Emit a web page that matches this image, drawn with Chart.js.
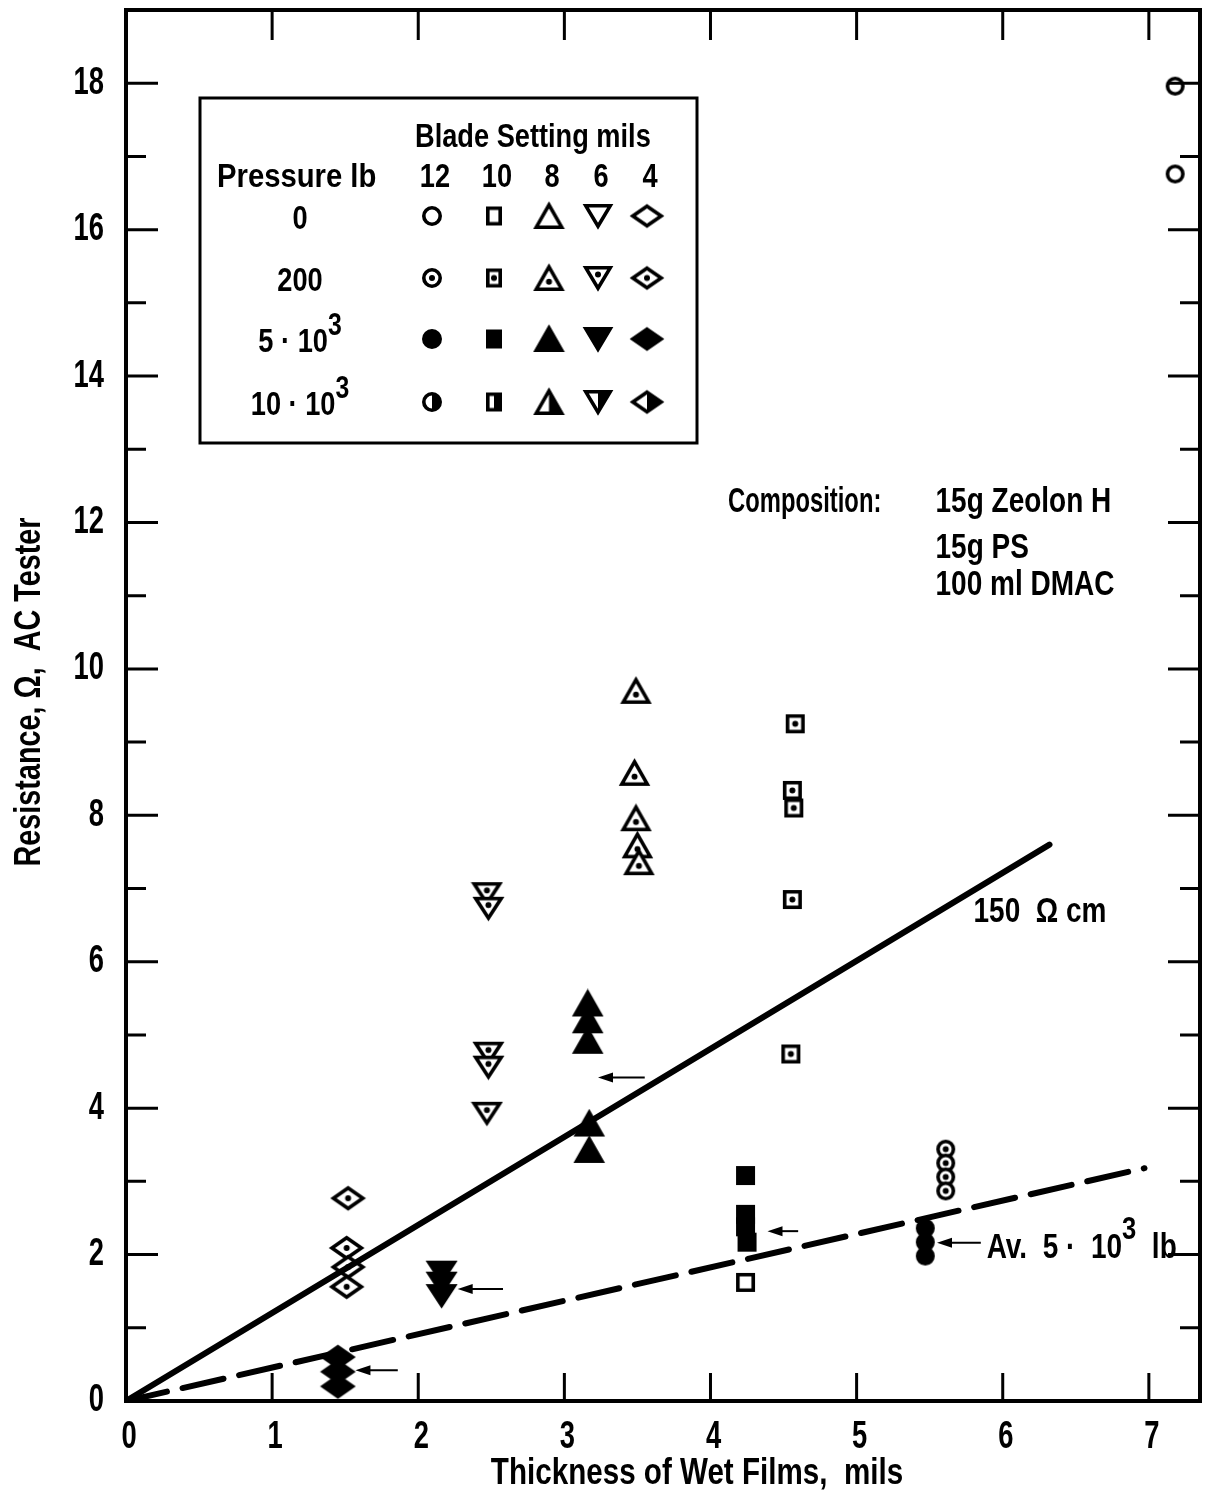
<!DOCTYPE html>
<html>
<head>
<meta charset="utf-8">
<script src="https://cdn.jsdelivr.net/npm/chart.js@4.4.1/dist/chart.umd.min.js"></script>
<style>
  html, body { margin: 0; padding: 0; background: #fff; }
  #wrap { width: 1210px; height: 1494px; }
</style>
</head>
<body>
<div id="wrap"><canvas id="chart" width="1210" height="1494"></canvas></div>
<script>
const FONT = '"Liberation Sans", "DejaVu Sans", sans-serif';
const SQUEEZE = 0.8;      // the original lettering is a condensed face

// axis ranges
const xMin = 0, xMax = 7.35;
const yMin = 0, yMax = 19;

// Pressure 0 lb (open symbols)
const open12 = [[7.18, 17.96], [7.18, 16.76]];
const open10 = [[4.24, 1.62]];
// Pressure 200 lb (dotted symbols)
const dot12 = [[5.61, 3.44], [5.61, 3.25], [5.61, 3.06], [5.61, 2.87]];
const dot10 = [[4.58, 9.25], [4.56, 8.34], [4.57, 8.10], [4.56, 6.85], [4.55, 4.74]];
const dot8 = [[3.49, 9.70], [3.48, 8.58], [3.49, 7.96], [3.50, 7.59], [3.51, 7.36]];
const dot6 = [[2.47, 6.93], [2.48, 6.73], [2.48, 4.75], [2.48, 4.56], [2.47, 3.93]];
const dot4 = [[1.52, 2.77], [1.51, 2.09], [1.52, 1.83], [1.51, 1.56]];
// Pressure 5*10^3 lb (solid symbols)
const solid12 = [[5.47, 2.36], [5.47, 2.17], [5.47, 1.98]];
const solid10 = [[4.24, 3.08], [4.24, 2.55], [4.24, 2.38], [4.25, 2.17]];
const solid8 = [[3.16, 5.43], [3.16, 5.20], [3.16, 4.92], [3.17, 3.79], [3.17, 3.43]];
const solid6 = [[2.16, 1.76], [2.16, 1.61], [2.16, 1.44]];
const solid4 = [[1.45, 0.60], [1.45, 0.40], [1.45, 0.20]];

// fitted lines
const line150 = [[0, 0], [6.32, 7.60]];
const lineAvg = [[0, 0], [6.97, 3.18]];

// arrows: from x, from y, to x, to y
const arrows = [
    [3.55, 4.42, 3.23, 4.42],
    [2.58, 1.53, 2.27, 1.53],
    [1.86, 0.42, 1.57, 0.42],
    [4.60, 2.32, 4.39, 2.32],
    [5.85, 2.16, 5.55, 2.16]
];

// text notes placed in data units: text, x, y, squeeze
const notes = [
    ['Composition:', 4.12, 12.27, 0.68],
    ['15g Zeolon H', 5.54, 12.27, SQUEEZE],
    ['15g PS', 5.54, 11.65, SQUEEZE],
    ['100 ml DMAC', 5.54, 11.14, SQUEEZE],
    ['150  \u03A9 cm', 5.80, 6.67, SQUEEZE]
];

// legend table
const bladeSettings = ['12', '10', '8', '6', '4'];
const pressures = ['0', '200', '5 \u00B7 10|3', '10 \u00B7 10|3'];
const shapes = ['circle', 'square', 'triangle', 'down', 'diamond'];
const fills = ['open', 'dot', 'solid', 'half'];

const sizes = {
    circle: [19, 19],
    square: [19, 19],
    triangle: [29, 26],
    down: [29, 23],
    diamond: [33, 24]
};
const legendSizes = {
    circle: [20, 20],
    square: [16, 19],
    triangle: [29, 26],
    down: [28, 24],
    diamond: [32, 23]
};

function tracePath(g, shape, w, h) {
    const hw = w / 2, hh = h / 2;
    g.beginPath();
    if (shape === 'circle') {
        g.ellipse(0, 0, hw, hh, 0, 0, Math.PI * 2);
    } else if (shape === 'square') {
        g.rect(-hw, -hh, w, h);
    } else if (shape === 'triangle') {
        g.moveTo(0, -hh); g.lineTo(hw, hh); g.lineTo(-hw, hh); g.closePath();
    } else if (shape === 'down') {
        g.moveTo(-hw, -hh); g.lineTo(hw, -hh); g.lineTo(0, hh); g.closePath();
    } else {
        g.moveTo(0, -hh); g.lineTo(hw, 0); g.lineTo(0, hh); g.lineTo(-hw, 0); g.closePath();
    }
}

// build a marker image (canvas) used as pointStyle
function makeMarker(shape, fill, size) {
    const lw = 3.6, pad = 2;
    const w = size[0] - lw, h = size[1] - lw;
    const c = document.createElement('canvas');
    c.width = size[0] + pad * 2;
    c.height = size[1] + pad * 2;
    const g = c.getContext('2d');
    g.translate(c.width / 2, c.height / 2);
    g.lineWidth = lw;
    g.lineJoin = 'miter';
    g.strokeStyle = '#000';
    tracePath(g, shape, w, h);
    if (fill === 'solid') {
        g.fillStyle = '#000';
        g.fill();
        g.stroke();
        return c;
    }
    g.fillStyle = '#fff';
    g.fill();
    if (fill === 'half') {
        g.save();
        g.clip();
        g.fillStyle = '#000';
        g.fillRect(0, -h, w, h * 2);
        g.restore();
    }
    tracePath(g, shape, w, h);
    g.stroke();
    if (fill === 'dot') {
        let dy = 0;
        if (shape === 'triangle') dy = h * 0.17;
        if (shape === 'down') dy = -h * 0.17;
        g.fillStyle = '#000';
        g.beginPath();
        g.arc(0, dy, 3, 0, Math.PI * 2);
        g.fill();
    }
    return c;
}

function pts(arr) {
    return arr.map(p => ({ x: p[0], y: p[1] }));
}

function markerSet(arr, shape, fill) {
    return {
        data: pts(arr),
        pointStyle: makeMarker(shape, fill, sizes[shape]),
        pointRadius: 9,
        showLine: false
    };
}

function lineSet(arr, width, dash) {
    return {
        data: pts(arr),
        showLine: true,
        borderColor: '#000',
        borderWidth: width,
        borderDash: dash,
        borderCapStyle: 'round',
        pointRadius: 0
    };
}

function drawArrow(ctx, x1, y1, x2, y2) {
    ctx.beginPath();
    ctx.moveTo(x1, y1);
    ctx.lineTo(x2 + 10, y2);
    ctx.stroke();
    ctx.beginPath();
    ctx.moveTo(x2, y2);
    ctx.lineTo(x2 + 15, y2 - 5);
    ctx.lineTo(x2 + 15, y2 + 5);
    ctx.closePath();
    ctx.fill();
}

// horizontally squeezed text
function sText(ctx, str, x, y, align, sx, rot) {
    ctx.save();
    ctx.translate(x, y);
    if (rot) ctx.rotate(rot);
    ctx.scale(sx, 1);
    ctx.textAlign = align;
    ctx.fillText(str, 0, 0);
    ctx.restore();
}

// text with "|" marking a superscript part
function drawSup(ctx, text, x, y, align, size, sx) {
    const parts = text.split('|');
    const base = parts[0], sup = parts[1] || '', rest = parts[2] || '';
    const f = 'bold ' + size + 'px ' + FONT;
    const fs = 'bold ' + Math.round(size * 0.9) + 'px ' + FONT;
    ctx.font = f;
    const wBase = ctx.measureText(base).width * sx;
    const wRest = ctx.measureText(rest).width * sx;
    ctx.font = fs;
    const wSup = ctx.measureText(sup).width * sx;
    let sx0 = x;
    if (align === 'center') sx0 = x - (wBase + wSup + wRest) / 2;
    ctx.font = f;
    sText(ctx, base, sx0, y, 'left', sx);
    ctx.font = fs;
    sText(ctx, sup, sx0 + wBase, y - size * 0.5, 'left', sx);
    ctx.font = f;
    sText(ctx, rest, sx0 + wBase + wSup, y, 'left', sx);
}

const decor = {
    id: 'decor',
    afterDatasetsDraw(chart) {
        const { ctx, chartArea: ca, scales: { x, y } } = chart;
        ctx.save();
        ctx.strokeStyle = '#000';
        ctx.fillStyle = '#000';

        // frame and inward ticks
        ctx.lineWidth = 4;
        ctx.strokeRect(ca.left, ca.top, ca.right - ca.left, ca.bottom - ca.top);
        ctx.lineWidth = 3;
        ctx.beginPath();
        for (let v = 1; v <= 7; v++) {
            const px = x.getPixelForValue(v);
            ctx.moveTo(px, ca.bottom); ctx.lineTo(px, ca.bottom - 28);
            ctx.moveTo(px, ca.top); ctx.lineTo(px, ca.top + 30);
        }
        for (let v = 1; v <= 18; v++) {
            const py = y.getPixelForValue(v);
            const len = v % 2 === 0 ? 32 : 20;
            ctx.moveTo(ca.left, py); ctx.lineTo(ca.left + len, py);
            ctx.moveTo(ca.right, py); ctx.lineTo(ca.right - len, py);
        }
        ctx.stroke();

        // tick labels from the scales' own ticks
        ctx.font = 'bold 38px ' + FONT;
        ctx.textBaseline = 'middle';
        x.ticks.forEach(t => sText(ctx, String(t.value), x.getPixelForValue(t.value) + 3, ca.bottom + 37, 'center', 0.72));
        y.ticks.forEach(t => sText(ctx, String(t.value), ca.left - 22, y.getPixelForValue(t.value), 'right', 0.72));

        // axis titles
        ctx.font = 'bold 37px ' + FONT;
        sText(ctx, 'Thickness of Wet Films,  mils', 697, 1474, 'center', SQUEEZE);
        ctx.font = 'bold 36px ' + FONT;
        sText(ctx, 'Resistance, \u03A9,  AC Tester', 30, 692, 'center', SQUEEZE, -Math.PI / 2);

        // arrows
        ctx.lineWidth = 2;
        arrows.forEach(a => {
            drawArrow(ctx, x.getPixelForValue(a[0]), y.getPixelForValue(a[1]),
                x.getPixelForValue(a[2]), y.getPixelForValue(a[3]));
        });

        // notes
        ctx.font = 'bold 35px ' + FONT;
        notes.forEach(n => sText(ctx, n[0], x.getPixelForValue(n[1]), y.getPixelForValue(n[2]), 'left', n[3]));
        drawSup(ctx, 'Av.  5 \u00B7  10|3|  lb', x.getPixelForValue(5.89), y.getPixelForValue(2.09), 'left', 35, SQUEEZE);

        // legend box
        const bx = ca.left + 74, by = ca.top + 88;
        ctx.lineWidth = 3;
        ctx.strokeRect(bx, by, 497, 345);
        ctx.font = 'bold 34px ' + FONT;
        sText(ctx, 'Blade Setting mils', bx + 215, by + 40, 'left', SQUEEZE);
        sText(ctx, 'Pressure lb', bx + 17, by + 80, 'left', 0.86);
        const colX = [232, 294, 349, 398, 447];
        const rowY = [118, 180, 241, 304];
        bladeSettings.forEach((b, i) => sText(ctx, b, bx + colX[i] + 3, by + 80, 'center', SQUEEZE));
        pressures.forEach((p, r) => {
            drawSup(ctx, p, bx + 100, by + rowY[r] + 4, 'center', 34, SQUEEZE);
            shapes.forEach((s, i) => {
                const img = makeMarker(s, fills[r], legendSizes[s]);
                ctx.drawImage(img, bx + colX[i] - img.width / 2, by + rowY[r] - img.height / 2);
            });
        });
        ctx.restore();
    }
};

const ctx = document.getElementById('chart').getContext('2d');
const chart = new Chart(ctx, {
    type: 'scatter',
    data: {
        datasets: [
            lineSet(line150, 6, []),
            lineSet(lineAvg, 6, [42, 16]),
            markerSet(open12, 'circle', 'open'),
            markerSet(open10, 'square', 'open'),
            markerSet(dot12, 'circle', 'dot'),
            markerSet(dot10, 'square', 'dot'),
            markerSet(dot8, 'triangle', 'dot'),
            markerSet(dot6, 'down', 'dot'),
            markerSet(dot4, 'diamond', 'dot'),
            markerSet(solid12, 'circle', 'solid'),
            markerSet(solid10, 'square', 'solid'),
            markerSet(solid8, 'triangle', 'solid'),
            markerSet(solid6, 'down', 'solid'),
            markerSet(solid4, 'diamond', 'solid')
        ]
    },
    options: {
        responsive: false,
        devicePixelRatio: 1,
        animation: false,
        layout: { padding: { top: 10, right: 7, left: 0, bottom: 0 } },
        plugins: {
            legend: { display: false },
            tooltip: { enabled: false }
        },
        scales: {
            x: {
                type: 'linear',
                min: xMin,
                max: xMax,
                grid: { display: false, drawTicks: false },
                border: { display: false },
                ticks: { stepSize: 1, includeBounds: false, display: false },
                afterFit: s => { s.height = 93; s.paddingLeft = 0; s.paddingRight = 0; }
            },
            y: {
                type: 'linear',
                min: yMin,
                max: yMax,
                grid: { display: false, drawTicks: false },
                border: { display: false },
                ticks: { stepSize: 2, includeBounds: false, display: false },
                afterFit: s => { s.width = 126; s.paddingTop = 0; s.paddingBottom = 0; }
            }
        }
    },
    plugins: [decor]
});
</script>
</body>
</html>
